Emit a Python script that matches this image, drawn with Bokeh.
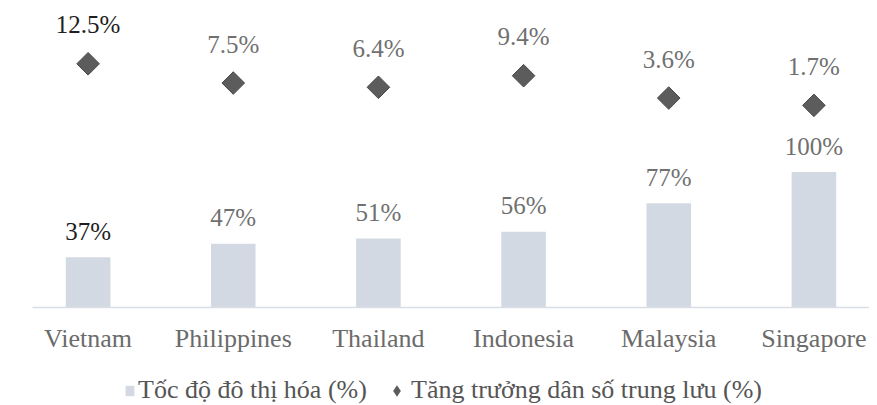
import numpy as np
from bokeh.plotting import figure
from bokeh.layouts import column
from bokeh.models import (ColumnDataSource, FactorRange, Range1d, Legend, LegendItem)
from bokeh.core.properties import value
from bokeh.embed import file_html
from bokeh.resources import INLINE

countries = ["Vietnam", "Philippines", "Thailand", "Indonesia", "Malaysia", "Singapore"]
urbanization = [37, 47, 51, 56, 77, 100]
middle_growth = [12.5, 7.5, 6.4, 9.4, 3.6, 1.7]
urban_labels = ["37%", "47%", "51%", "56%", "77%", "100%"]
growth_labels = ["12.5%", "7.5%", "6.4%", "9.4%", "3.6%", "1.7%"]
label_colors = ["#1e1e1e", "#707070", "#707070", "#707070", "#707070", "#707070"]
legend_labels = ["Tốc độ đô thị hóa (%)", "Tăng trưởng dân số trung lưu (%)"]

FONT = value("Liberation Serif")
BAR_COLOR = "#d3d9e2"
DIAMOND_COLOR = "#5c5c5c"

src = ColumnDataSource(dict(
    country=countries, urban=urbanization, growth=middle_growth,
    ulab=urban_labels, glab=growth_labels, lcol=label_colors,
))

p = figure(
    width=869, height=367,
    x_range=FactorRange(factors=countries, range_padding=-0.117, range_padding_units="absolute"),
    y_range=Range1d(0, 220.7),
    y_axis_location=None,
    output_backend="svg", toolbar_location=None,
    min_border_left=32, min_border_right=0, min_border_top=8, min_border_bottom=60,
)
p.extra_y_ranges = {"pop": Range1d(-50.8, 26.86)}
p.outline_line_color = None
p.xgrid.grid_line_color = None
p.ygrid.grid_line_color = None
p.background_fill_color = "white"
p.border_fill_color = "white"

bars = p.vbar(x="country", top="urban", width=0.307, source=src,
              fill_color=BAR_COLOR, line_color=None)
p.text(x="country", y="urban", text="ulab", source=src,
       text_align="center", text_baseline="alphabetic", y_offset=-26,
       text_font=FONT, text_font_size="25px", text_color="lcol")

diam = p.scatter(x="country", y="growth", source=src, y_range_name="pop",
                 marker="square", size=16, angle=np.pi / 4,
                 fill_color=DIAMOND_COLOR, line_color="#4a4a4a", line_width=1)
p.text(x="country", y="growth", text="glab", source=src, y_range_name="pop",
       text_align="center", text_baseline="alphabetic", y_offset=-39,
       text_font=FONT, text_font_size="25px", text_color="lcol")

xa = p.xaxis[0]
xa.axis_line_color = "#d9dde6"
xa.axis_line_width = 1.5
xa.major_tick_line_color = None
xa.minor_tick_line_color = None
xa.major_label_text_font = "Liberation Serif"
xa.major_label_text_font_size = "26px"
xa.major_label_text_color = "#6b6b6b"
xa.major_label_standoff = 10

# legend strip (key proxies sit outside the strip's visible range)
lg = figure(width=869, height=38, x_range=Range1d(0, 1), y_range=Range1d(0, 1),
            x_axis_location=None, y_axis_location=None,
            output_backend="svg", toolbar_location=None,
            min_border_left=0, min_border_right=0, min_border_top=0, min_border_bottom=0)
lg.outline_line_color = None
lg.xgrid.grid_line_color = None
lg.ygrid.grid_line_color = None
proxy = ColumnDataSource(dict(x=[-5], y=[-5]))
leg_bar = lg.vbar(x="x", top="y", width=0.1, source=proxy,
                  fill_color=BAR_COLOR, line_color=None)
leg_dia = lg.scatter(x="x", y="y", source=proxy, marker="diamond",
                     fill_color=DIAMOND_COLOR, line_color=None)

common = dict(orientation="horizontal", border_line_color=None, background_fill_alpha=0,
              label_text_font="Liberation Serif", label_text_font_size="26px",
              label_text_color="#555555", padding=0, margin=0)
legend_a = Legend(items=[LegendItem(label=legend_labels[0], renderers=[leg_bar])],
                  location=(92, 0), glyph_width=11, glyph_height=13, label_standoff=3,
                  **common)
legend_b = Legend(items=[LegendItem(label=legend_labels[1], renderers=[leg_dia])],
                  location=(350, 0), glyph_width=29, glyph_height=29, label_standoff=0,
                  **common)
lg.add_layout(legend_a, "center")
lg.add_layout(legend_b, "center")

layout = column(p, lg, spacing=0)
open("out.html", "w").write(file_html(layout, INLINE))
